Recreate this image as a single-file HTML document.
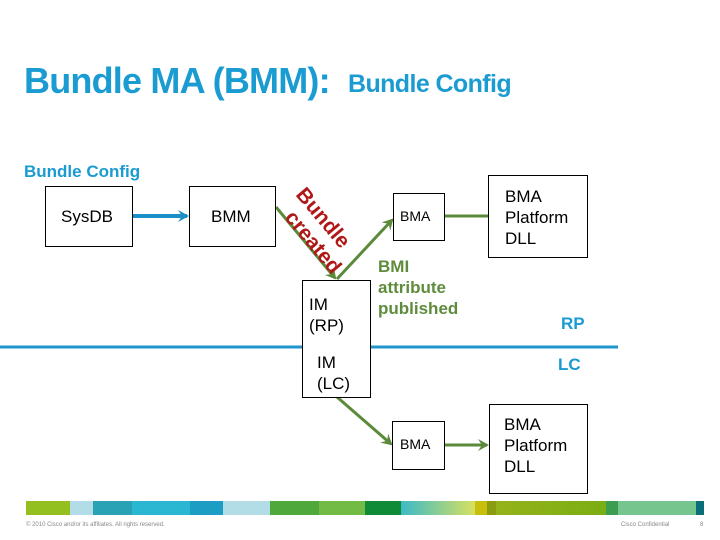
<!DOCTYPE html>
<html><head><meta charset="utf-8"><style>
body{margin:0;width:720px;height:540px;background:#fff;position:relative;overflow:hidden;font-family:"Liberation Sans",Arial,sans-serif}
.t{position:absolute;white-space:nowrap}
.box{position:absolute;border:1px solid #000;box-sizing:border-box;background:#fff}
</style></head><body>
<div class="t" style="left:24px;top:60px;font-size:36px;font-weight:bold;color:#1a9bd1;letter-spacing:-0.8px">Bundle MA (BMM):</div>
<div class="t" style="left:348px;top:70px;font-size:25px;font-weight:bold;color:#1a9bd1;letter-spacing:-0.6px">Bundle Config</div>
<div class="t" style="left:24px;top:162px;font-size:17px;font-weight:bold;color:#1a9bd1">Bundle Config</div>

<svg style="position:absolute;left:0;top:0" width="720" height="540">
<defs>
<marker id="g" markerWidth="12" markerHeight="12" refX="9" refY="6" orient="auto" markerUnits="userSpaceOnUse"><path d="M0,0 L11,6 L0,12 L4,6z" fill="#5a8a3a"/></marker>
<marker id="b" markerWidth="12" markerHeight="12" refX="9" refY="6" orient="auto" markerUnits="userSpaceOnUse"><path d="M0,0 L11,6 L0,12 L4,6z" fill="#1a8fc8"/></marker>
</defs>
<line x1="0" y1="347" x2="618" y2="347" stroke="#2196cc" stroke-width="3"/>
<line x1="133" y1="216" x2="187" y2="216" stroke="#1a8fc8" stroke-width="4" marker-end="url(#b)"/>
<line x1="276" y1="207" x2="335" y2="278" stroke="#5a8a3a" stroke-width="3" marker-end="url(#g)"/>
<line x1="337" y1="279" x2="392" y2="220" stroke="#5a8a3a" stroke-width="3" marker-end="url(#g)"/>
<line x1="444" y1="216" x2="488" y2="216" stroke="#5a8a3a" stroke-width="3"/>
<line x1="337" y1="397" x2="391" y2="444" stroke="#5a8a3a" stroke-width="3" marker-end="url(#g)"/>
<line x1="444" y1="445" x2="487" y2="445" stroke="#5a8a3a" stroke-width="3" marker-end="url(#g)"/>
</svg>

<div class="box" style="left:45px;top:186px;width:88px;height:61px"></div>
<div class="t" style="left:61px;top:207px;font-size:17px">SysDB</div>
<div class="box" style="left:189px;top:186px;width:87px;height:61px"></div>
<div class="t" style="left:211px;top:207px;font-size:17px">BMM</div>

<div class="box" style="left:302px;top:280px;width:69px;height:118px"></div>
<div class="t" style="left:309px;top:294px;font-size:17px;line-height:21px">IM<br>(RP)</div>
<div class="t" style="left:317px;top:352px;font-size:17px;line-height:21px">IM<br>(LC)</div>

<div class="box" style="left:393px;top:193px;width:52px;height:48px"></div>
<div class="t" style="left:400px;top:208px;font-size:14px">BMA</div>
<div class="box" style="left:488px;top:175px;width:100px;height:83px"></div>
<div class="t" style="left:505px;top:186px;font-size:17px;line-height:21px">BMA<br>Platform<br>DLL</div>

<div class="box" style="left:392px;top:421px;width:53px;height:49px"></div>
<div class="t" style="left:400px;top:436px;font-size:14px">BMA</div>
<div class="box" style="left:489px;top:404px;width:99px;height:90px"></div>
<div class="t" style="left:504px;top:414px;font-size:17px;line-height:21px">BMA<br>Platform<br>DLL</div>

<div class="t" style="left:378px;top:256px;font-size:17px;line-height:21px;font-weight:bold;color:#5f8c3c">BMI<br>attribute<br>published</div>
<div class="t" style="left:561px;top:314px;font-size:17px;font-weight:bold;color:#1a9bd1">RP</div>
<div class="t" style="left:558px;top:355px;font-size:17px;font-weight:bold;color:#1a9bd1">LC</div>

<div class="t" style="left:308px;top:184px;font-size:21px;font-weight:bold;color:#b01818;transform:rotate(50deg);transform-origin:0 0;line-height:22px">Bundle</div>
<div class="t" style="left:297px;top:207px;font-size:21px;font-weight:bold;color:#b01818;transform:rotate(50deg);transform-origin:0 0;line-height:22px">created</div>

<div style="position:absolute;left:26px;top:501px;height:14px;width:678px;display:flex">
<div style="width:44px;background:#93c01f"></div><div style="width:23px;background:#b3dde6"></div><div style="width:39px;background:#28a2b4"></div><div style="width:58px;background:#2bb6d1"></div><div style="width:33px;background:#1b9dc4"></div><div style="width:47px;background:#b3dde6"></div><div style="width:49px;background:#4ea83c"></div><div style="width:46px;background:#72bb44"></div><div style="width:36px;background:#0f8a36"></div><div style="width:74px;background:linear-gradient(90deg,#3cbac8,#d8e060)"></div><div style="width:12px;background:#c7bf0c"></div><div style="width:9px;background:#8a9c10"></div><div style="width:110px;background:linear-gradient(90deg,#95b21a,#7aae14)"></div><div style="width:12px;background:#3a9d50"></div><div style="width:78px;background:#76c48e"></div><div style="width:8px;background:#0b6d78"></div>
</div>
<div class="t" style="left:26px;top:522px;font-size:6px;color:#888">© 2010 Cisco and/or its affiliates. All rights reserved.</div>
<div class="t" style="left:621px;top:522px;font-size:6px;color:#888">Cisco Confidential</div>
<div class="t" style="left:700px;top:522px;font-size:6px;color:#888">8</div>
</body></html>
